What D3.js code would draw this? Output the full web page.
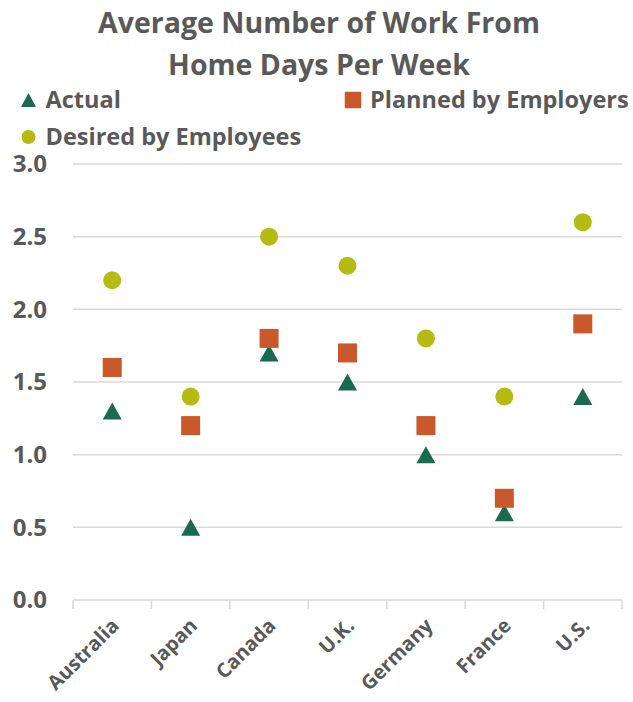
<!DOCTYPE html>
<html>
<head>
<meta charset="utf-8">
<script src="https://cdn.jsdelivr.net/npm/d3@7"></script>
<style>
  body { margin: 0; background: #fff; }
  text { font-family: "Open Sans", Lato, sans-serif; font-weight: bold; fill: #595959; }
</style>
</head>
<body>
<div id="chart"></div>
<script>
// data
const countries = ['Australia', 'Japan', 'Canada', 'U.K.', 'Germany', 'France', 'U.S.'];
const actual = [1.3, 0.5, 1.7, 1.5, 1.0, 0.6, 1.4];
const planned = [1.6, 1.2, 1.8, 1.7, 1.2, 0.7, 1.9];
const desired = [2.2, 1.4, 2.5, 2.3, 1.8, 1.4, 2.6];
const yTicks = [0, 0.5, 1.0, 1.5, 2.0, 2.5, 3.0];
const titleLines = ['Average Number of Work From', 'Home Days Per Week'];

const series = [
  {name: 'Actual', values: actual, shape: 'triangle', color: '#1b6a4f'},
  {name: 'Planned by Employers', values: planned, shape: 'square', color: '#c9582a'},
  {name: 'Desired by Employees', values: desired, shape: 'circle', color: '#b4bb12'}
];

const config = {
  width: 633,
  height: 702,
  margin: {top: 164, right: 11, bottom: 102, left: 73}
};

const svg = d3.select('#chart').append('svg')
    .attr('width', config.width)
    .attr('height', config.height);

const innerW = config.width - config.margin.left - config.margin.right;
const innerH = config.height - config.margin.top - config.margin.bottom;

const x = d3.scaleBand()
    .domain(countries)
    .range([config.margin.left, config.margin.left + innerW]);

const y = d3.scaleLinear()
    .domain([0, 3])
    .range([config.margin.top + innerH, config.margin.top]);

// excel style triangle: centred on its bounding box, not its centroid
const boxTriangle = (w, h) => ({
  draw(context) {
    context.moveTo(0, -h / 2);
    context.lineTo(w / 2, h / 2);
    context.lineTo(-w / 2, h / 2);
    context.closePath();
  }
});

const symbolFor = {
  triangle: d3.symbol().type(boxTriangle(19, 17)),
  square: d3.symbol().type(d3.symbolSquare).size(361),
  circle: d3.symbol().type(d3.symbolCircle).size(254)
};
const legendSymbolFor = {
  triangle: d3.symbol().type(boxTriangle(15, 14)),
  square: d3.symbol().type(d3.symbolSquare).size(272),
  circle: d3.symbol().type(d3.symbolCircle).size(154)
};

// title
svg.append('g').selectAll('text')
    .data(titleLines)
  .join('text')
    .attr('x', 319)
    .attr('y', (d, i) => 33 + i * 42)
    .attr('text-anchor', 'middle')
    .style('font-size', '28.5px')
    .text(d => d);

// legend
const legendPos = [[28.5, 100], [353, 100], [28.5, 137]];
const legend = svg.append('g').selectAll('g')
    .data(series)
  .join('g')
    .attr('transform', (d, i) => `translate(${legendPos[i][0]},${legendPos[i][1]})`);

legend.append('path')
    .attr('d', d => legendSymbolFor[d.shape]())
    .attr('fill', d => d.color);

legend.append('text')
    .attr('x', 17)
    .attr('y', 8)
    .style('font-size', '23.5px')
    .text(d => d.name);

// grid
svg.append('g')
  .selectAll('line')
  .data(yTicks.filter(d => d > 0))
  .join('line')
    .attr('x1', config.margin.left)
    .attr('x2', config.margin.left + innerW)
    .attr('y1', d => y(d))
    .attr('y2', d => y(d))
    .attr('stroke', '#d9d9d9')
    .attr('stroke-width', 1.5);

// y axis labels
const yAxis = d3.axisLeft(y)
    .tickValues(yTicks)
    .tickSize(0)
    .tickPadding(26)
    .tickFormat(d3.format('.1f'));

svg.append('g')
    .attr('transform', `translate(${config.margin.left},0)`)
    .call(yAxis)
    .call(g => g.select('.domain').remove())
    .call(g => g.selectAll('text')
        .style('font-size', '24px')
        .attr('fill', '#595959'));

// x axis with ticks at category boundaries
const xAxisG = svg.append('g')
    .attr('transform', `translate(0,${y(0)})`);

xAxisG.append('line')
    .attr('x1', config.margin.left)
    .attr('x2', config.margin.left + innerW)
    .attr('stroke', '#d9d9d9')
    .attr('stroke-width', 1.5);

const boundaries = countries.map(c => x(c)).concat([x.range()[1]]);
xAxisG.selectAll('.tick-mark')
    .data(boundaries)
  .join('line')
    .attr('class', 'tick-mark')
    .attr('x1', d => d)
    .attr('x2', d => d)
    .attr('y1', 0)
    .attr('y2', 9)
    .attr('stroke', '#d9d9d9')
    .attr('stroke-width', 1.5);

xAxisG.selectAll('.x-label')
    .data(countries)
  .join('text')
    .attr('class', 'x-label')
    .attr('text-anchor', 'end')
    .attr('transform', d => `translate(${x(d) + x.bandwidth() / 2 + 8},${27}) rotate(-45)`)
    .style('font-size', '20px')
    .text(d => d);

// markers
const markers = svg.append('g');
series.forEach(s => {
  markers.append('g').selectAll('path')
      .data(countries.map((c, i) => ({country: c, value: s.values[i]})))
    .join('path')
      .attr('d', symbolFor[s.shape]())
      .attr('transform', d => `translate(${x(d.country) + x.bandwidth() / 2},${y(d.value)})`)
      .attr('fill', s.color);
});
</script>
</body>
</html>
